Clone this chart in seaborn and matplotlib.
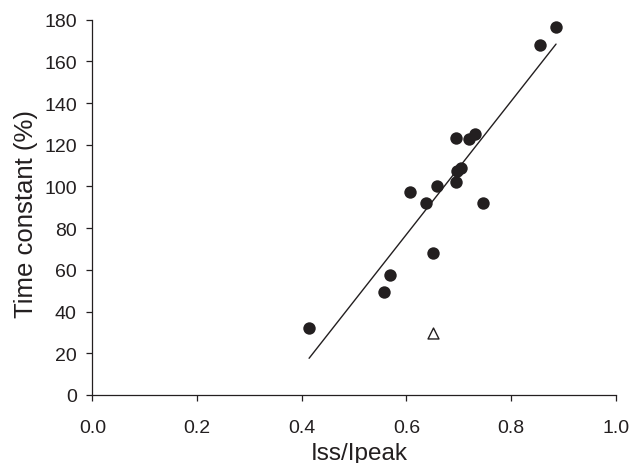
import matplotlib
matplotlib.use("Agg")
import matplotlib.pyplot as plt
import seaborn as sns
import numpy as np
import pandas as pd

# Filled circles (regression data)
ratio = [0.886, 0.855, 0.732, 0.720, 0.694, 0.705, 0.697, 0.694, 0.659,
         0.607, 0.747, 0.637, 0.414, 0.558, 0.568, 0.651]
tau = [176.4, 168.0, 125.2, 122.6, 123.1, 108.7, 107.3, 102.2, 100.2,
       97.4, 92.1, 92.1, 32.0, 49.5, 57.7, 68.1]
# Open triangle (outlier)
tri_ratio = [0.651]
tri_tau = [29.7]

x_ticks = [0.0, 0.2, 0.4, 0.6, 0.8, 1.0]
y_ticks = [0, 20, 40, 60, 80, 100, 120, 140, 160, 180]

sns.set_theme(style="ticks")
plt.rcParams['font.family'] = ['Liberation Sans', 'DejaVu Sans']
ink = '#231f20'

df = pd.DataFrame({"ratio": ratio, "tau": tau})
tri = pd.DataFrame({"ratio": tri_ratio, "tau": tri_tau})

fig = plt.figure(figsize=(6.4, 4.64), dpi=100)
ax = fig.add_axes([0.1445, 0.1466, 0.962 - 0.1445, 0.9554 - 0.1466])

sns.regplot(data=df, x="ratio", y="tau", ax=ax, ci=None, truncate=True,
            scatter_kws=dict(s=80, color=ink, edgecolor=ink, linewidths=0, alpha=1, zorder=3),
            line_kws=dict(color=ink, lw=1.0, zorder=2))
sns.scatterplot(data=tri, x="ratio", y="tau", ax=ax, marker='^', s=62,
                facecolor='white', edgecolor=ink, linewidth=1.0, zorder=3)

ax.set_xlim(0, 1.0)
ax.set_ylim(0, 180)
ax.set_xticks(x_ticks)
ax.set_xticklabels([f"{v:.1f}" for v in x_ticks])
ax.set_yticks(y_ticks)
ax.set_yticklabels([str(v) for v in y_ticks])

for s in ['top', 'right']:
    ax.spines[s].set_visible(False)
for s in ['left', 'bottom']:
    ax.spines[s].set_color(ink)
    ax.spines[s].set_linewidth(0.9)

ax.tick_params(axis='both', direction='out', length=4.3, width=0.9, color=ink,
               labelcolor=ink, labelsize=14)
ax.tick_params(axis='x', pad=13)
ax.tick_params(axis='y', pad=7)

ax.set_xlabel("Iss/Ipeak", fontsize=17.5, color=ink)
ax.set_ylabel("Time constant (%)", fontsize=18.5, color=ink)
ax.xaxis.set_label_coords(0.509, -0.125)
ax.yaxis.set_label_coords(-0.105, 0.485)

fig.savefig("out.png", dpi=100)
